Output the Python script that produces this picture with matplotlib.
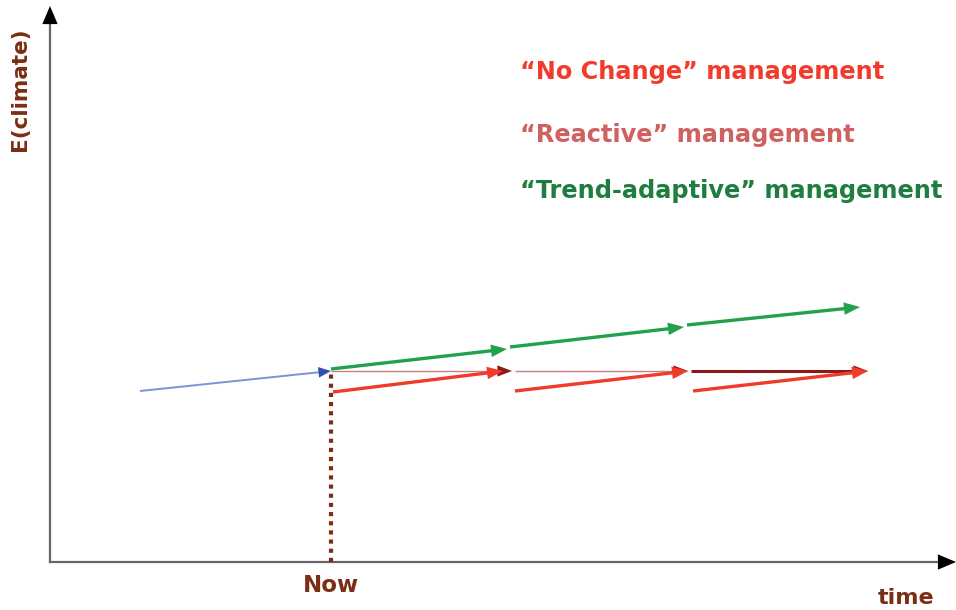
import numpy as np
import matplotlib.pyplot as plt

# Coordinates are in an abstract "time" / "E(climate)" space (0..956, 0..610)
# Past trend (blue) leading up to "Now"
past_t = [140, 331]
past_e = [219, 239]

# "Trend-adaptive" management: segments (t0, e0, t1, e1)
trend_segs = [(331, 241, 507, 261), (510, 263, 684, 283), (687, 285, 860, 303)]
# "Reactive" management: flat segments
reactive_segs = [(331, 239, 512, 239), (515, 239, 688, 239), (691, 239, 868, 239)]
reactive_widths = [1.0, 1.0, 2.2]
# "No Change" management
nochange_segs = [(333, 218, 503, 239), (515, 219, 688, 239), (693, 219, 868, 239)]

now_t = 331
labels = ['\u201cNo Change\u201d management',
          '\u201cReactive\u201d management',
          '\u201cTrend-adaptive\u201d management']
label_colors = ['#f23b2c', '#cf6161', '#1f7d3f']
label_e = [538, 475, 419]

brown = '#7a2e14'

fig = plt.figure(figsize=(9.56, 6.1), dpi=100)
ax = fig.add_axes([0, 0, 1, 1])
ax.set_xlim(0, 956)
ax.set_ylim(0, 610)
ax.axis('off')


def arrow(t0, e0, t1, e1, color, lw, hc=None, hl=1.15, hw=0.45):
    d = np.hypot(t1 - t0, e1 - e0)
    ux, uy = (t1 - t0) / d, (e1 - e0) / d
    # shaft (stops a little before the tip)
    ax.plot([t0, t1 - 8 * ux], [e0, e1 - 8 * uy], color=color, lw=lw, solid_capstyle='butt')
    # head
    ax.annotate('', xy=(t1, e1), xytext=(t1 - 25 * ux, e1 - 25 * uy),
                arrowprops=dict(arrowstyle=f'-|>,head_length={hl},head_width={hw}',
                                color=hc or color, lw=0.01,
                                shrinkA=0, shrinkB=0))


# axes with arrowheads
ax.plot([50, 50], [48, 592], color='#666666', lw=1.6)
ax.plot([50, 945], [48, 48], color='#666666', lw=1.6)
ax.annotate('', xy=(50, 604), xytext=(50, 580),
            arrowprops=dict(arrowstyle='-|>,head_length=1.3,head_width=0.55',
                            color='black', lw=0.01, shrinkA=0, shrinkB=0))
ax.annotate('', xy=(956, 48), xytext=(932, 48),
            arrowprops=dict(arrowstyle='-|>,head_length=1.3,head_width=0.55',
                            color='black', lw=0.01, shrinkA=0, shrinkB=0))

# dotted "Now" line
ax.plot([now_t, now_t], [48, 239], color=brown, lw=3, ls=(0, (1, 1.2)))

arrow(past_t[0], past_e[0], past_t[1], past_e[1], '#7a95d6', 1.4, '#3050b0', hl=0.9, hw=0.38)
for (t0, e0, t1, e1), w in zip(reactive_segs, reactive_widths):
    c = '#c98080' if w < 1.5 else '#8b1a1a'
    arrow(t0, e0, t1, e1, c, w, '#8b1a1a', hl=1.05, hw=0.4)
for t0, e0, t1, e1 in nochange_segs:
    arrow(t0, e0, t1, e1, '#f03a2a', 2.4)
for t0, e0, t1, e1 in trend_segs:
    arrow(t0, e0, t1, e1, '#22a04a', 2.4)

# labels
for lab, c, e in zip(labels, label_colors, label_e):
    ax.text(520, e, lab, color=c, fontsize=17.3, fontweight='bold', va='center', ha='left')

ax.text(20, 521, 'E(climate)', color=brown, fontsize=15.5, fontweight='bold',
        rotation=90, ha='center', va='center')
ax.text(now_t, 25, 'Now', color=brown, fontsize=16.5, fontweight='bold', ha='center', va='center')
ax.text(906, 12, 'time', color=brown, fontsize=16, fontweight='bold', ha='center', va='center')

plt.savefig('out.png', dpi=100)
